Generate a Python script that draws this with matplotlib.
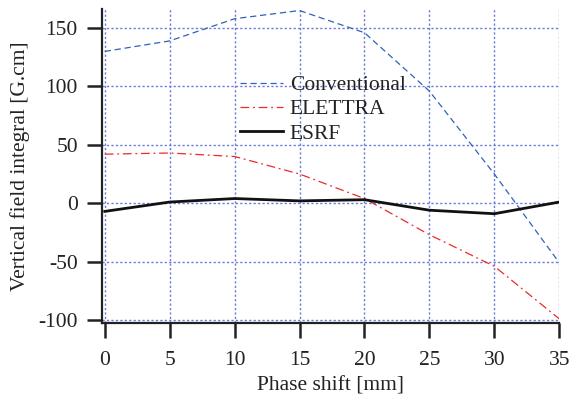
import matplotlib
matplotlib.use("Agg")
import matplotlib.pyplot as plt

phase = [0, 5, 10, 15, 20, 25, 30, 35]
conventional = [130, 139, 158, 165, 146, 96, 25, -51]
elettra = [42, 43, 40, 25, 4, -27, -54, -99]
esrf = [-7, 1, 4, 2, 3, -6, -9, 1]
xticks = [0, 5, 10, 15, 20, 25, 30, 35]
yticks = [-100, -50, 0, 50, 100, 150]

plt.rcParams['font.family'] = ['Liberation Serif', 'DejaVu Serif']
fig = plt.figure(figsize=(5.69, 3.96), dpi=100)
ax = fig.add_axes([0.1784, 0.1843, 0.8045, 0.7929])

ax.plot(phase, conventional, color='#2f62b8', lw=0.9, ls=(0, (5, 3)), label='Conventional')
ax.plot(phase, elettra, color='#ee2a2a', lw=0.9, ls=(0, (7, 3, 1.5, 3)), label='ELETTRA')
ax.plot(phase, esrf, color='#111111', lw=2.0, label='ESRF')

ax.set_xlim(-0.25, 35)
ax.set_ylim(-102.6, 166.3)
ax.set_xticks(xticks)
ax.set_yticks(yticks)
ax.set_yticklabels([str(v) for v in yticks])
ax.grid(True, color='#6a7cd6', ls=(0, (1.6, 1.6)), lw=1.0)
ax.set_axisbelow(True)
for s in ['top', 'right']:
    ax.spines[s].set_visible(False)
for s in ['left', 'bottom']:
    ax.spines[s].set_linewidth(1.6)
    ax.spines[s].set_color('#222222')
ax.tick_params(axis='both', direction='out', length=11, width=1.8, color='#222222',
               labelsize=15.5, labelcolor='#222222', pad=6)
ax.tick_params(axis='x', pad=9)
ax.set_xlabel('Phase shift [mm]', fontsize=15.5, labelpad=5, color='#222222')
ax.set_ylabel('Vertical field integral [G.cm]', fontsize=15.5, labelpad=6, color='#222222')

leg = ax.legend(loc='upper left', bbox_to_anchor=(0.303, 0.79), frameon=False,
                fontsize=15.5, handlelength=2.0, handletextpad=0.3, labelspacing=0.2,
                borderpad=0, borderaxespad=0)
for t in leg.get_texts():
    t.set_color('#222222')

fig.savefig('out.png', dpi=100)
